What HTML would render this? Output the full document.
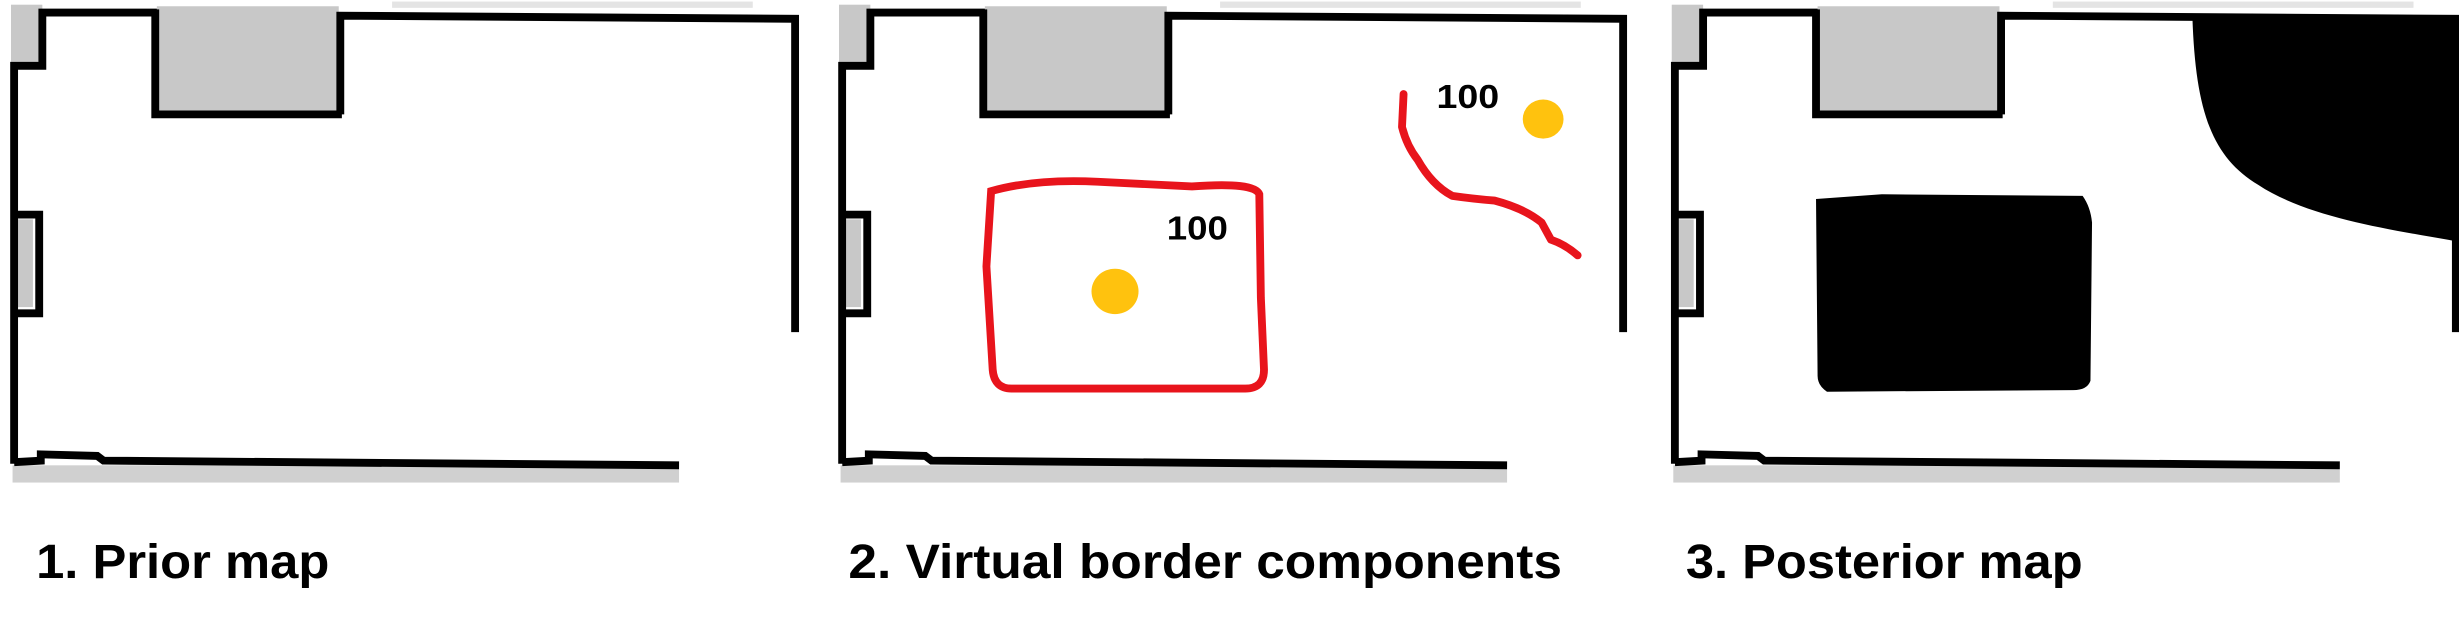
<!DOCTYPE html>
<html><head><meta charset="utf-8"><style>
html,body{margin:0;padding:0;background:#fff;overflow:hidden;}
svg{display:block;}
text{font-family:"Liberation Sans",sans-serif;font-weight:bold;}
</style></head><body>
<svg id="fig" width="2459" height="622" viewBox="0 0 1568 397" preserveAspectRatio="none" xmlns="http://www.w3.org/2000/svg">
<rect width="1568" height="397" fill="#fff"/>
</svg>
<script>
const panelOffsets=[0,528,1059];
const panelTitles=["1. Prior map","2. Virtual border components","3. Posterior map"];
const titleWidths=[187,455,253];
const NS="http://www.w3.org/2000/svg";
const svg=document.getElementById('fig');
function mk(tag,attrs,parent){const e=document.createElementNS(NS,tag);for(const k in attrs)e.setAttribute(k,attrs[k]);(parent||svg).appendChild(e);return e;}
panelOffsets.forEach((dx,i)=>{
  const g=mk('g',{transform:'translate('+dx+',0)'});
  
  
  mk('rect',{x:7,y:3,width:20,height:38,fill:'#c8c8c8'},g);
  mk('rect',{x:100,y:4,width:116,height:68,fill:'#c8c8c8'},g);
  mk('rect',{x:7,y:140,width:14,height:56,fill:'#c8c8c8'},g);
  mk('rect',{x:8,y:297,width:425,height:11,fill:'#d0d0d0'},g);
  mk('rect',{x:250,y:1,width:230,height:4,fill:'#e4e4e4'},g);
  const walls=[
    'M9,296 L9,42 L27,42 L27,8 L100,8',
    'M99,6 L99,73 L218,73',
    'M217,73 L217,10 L507,12 L507,212',
    'M9,137 L25,137 L25,200 L9,200',
    'M9,295 L26,294 L26,290 L62,291 L66,294 L433,297'
  ];
  walls.forEach((d,j)=>{const p=mk('path',{d:d,fill:'none',stroke:'#000','stroke-width':5},g);
    
    });
  const t=mk('text',{x:i==0?23:(i==1?13:16),y:369,'font-size':31,textLength:titleWidths[i],lengthAdjust:'spacingAndGlyphs',fill:'#000'},g);
  t.textContent=panelTitles[i];
  
  
});
const b1=mk('path',{d:'M632,122 Q660,114 700,116 L760,119 Q800,116 803,124 L804,190 L806,236 Q806,248 794,248 L645,248 Q634,248 633,236 L629,170 Z',fill:'none',stroke:'#e8141c','stroke-width':5});


const b2=mk('path',{d:'M895,60 L894,81 Q897,93 904,102 Q913,118 926,125 Q940,127 953,128 Q972,133 983,142 L989,153 Q998,156 1006,163',fill:'none',stroke:'#e8141c','stroke-width':5,'stroke-linecap':'round','stroke-linejoin':'round'});


const d1=mk('ellipse',{cx:711,cy:186,rx:15,ry:14.5,fill:'#ffc20e'});


const d2=mk('ellipse',{cx:984,cy:76,rx:13,ry:12.5,fill:'#ffc20e'});


const l1=mk('text',{x:744,y:153,'font-size':21,textLength:39,lengthAdjust:'spacingAndGlyphs',fill:'#000'});l1.textContent='100';


const l2=mk('text',{x:916,y:69,'font-size':21,textLength:40,lengthAdjust:'spacingAndGlyphs',fill:'#000'});l2.textContent='100';


const o1=mk('path',{d:'M1158,127 L1200,124 L1328,125 Q1333,132 1334,142 L1333,243 Q1331,249 1322,249 L1165,250 Q1159,246 1159,240 Z',fill:'#000'});


const o2=mk('path',{d:'M1398,11 L1566,11 L1566,154 L1561,153 C1520,146 1470,138 1440,118 C1410,100 1400,70 1398,11 Z',fill:'#000'});


</script>
</body></html>
